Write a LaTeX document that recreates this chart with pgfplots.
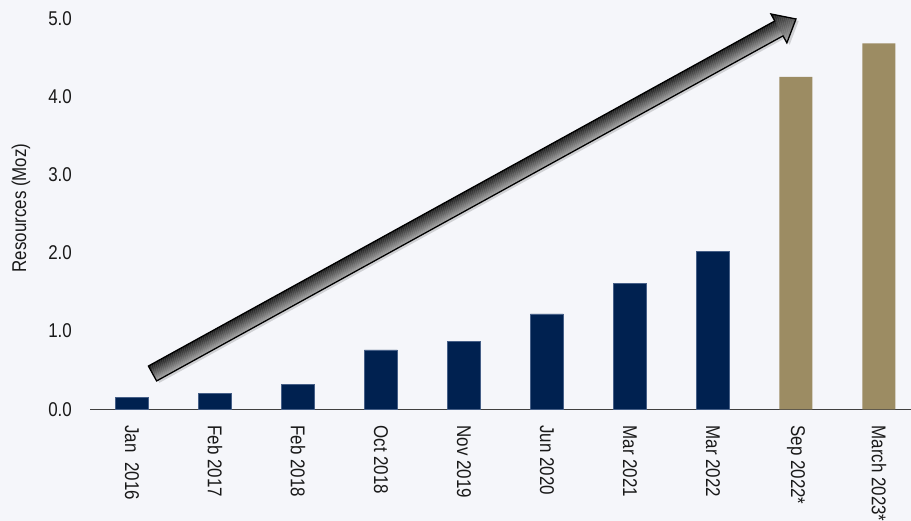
\documentclass[border=0pt]{standalone}
\usepackage{fontspec}
\setmainfont{Liberation Sans}[FakeStretch=0.85]
\usepackage{pgfplots}
\pgfplotsset{compat=1.18}
\definecolor{bgc}{RGB}{245,246,250}
\definecolor{navy}{RGB}{0,33,80}
\definecolor{navyedge}{RGB}{70,95,135}
\definecolor{khaki}{RGB}{156,140,99}
\begin{document}
\begin{tikzpicture}[x=1bp,y=1bp]
\fill[bgc] (-90.5bp,-111.7bp) rectangle (820.5bp,409.3bp);
\useasboundingbox (-90.5bp,-111.7bp) rectangle (820.5bp,409.3bp);
\begin{axis}[
  at={(0,0)}, anchor=south west,
  scale only axis,
  width=820.5bp, height=391bp,
  xmin=-0.5, xmax=9.386,
  ymin=0, ymax=5,
  axis lines*=left,
  y axis line style={draw=none},
  x axis line style={draw=black!75, line width=0.9bp},
  tick style={draw=none},
  major tick length=0pt,
  xtick={0,...,9},
  xticklabels={Jan~~2016,Feb 2017,Feb 2018,Oct 2018,Nov 2019,Jun 2020,Mar 2021,Mar 2022,Sep 2022*,March 2023*},
  ytick={0,1,2,3,4,5},
  yticklabels={0.0,1.0,2.0,3.0,4.0,5.0},
  /pgf/number format/assume math mode=true,
  every tick label/.append style={font=\fontsize{20}{24}\selectfont, text=black!90},
  xticklabel style={rotate=-90, anchor=west, inner sep=0pt},
  xticklabel shift=16bp,
  yticklabel style={anchor=east, inner sep=0pt},
  yticklabel shift=18.5bp,
  ylabel={Resources (Moz)},
  ylabel style={at={(axis description cs:-0.0847,0.515)}, anchor=center, font=\fontsize{20}{24}\selectfont, text=black!90},
  ybar, bar width=33bp,
  clip=false,
]
\addplot[fill=navy, draw=navyedge, line width=0.6bp, bar shift=0pt] coordinates {
 (0,0.15) (1,0.20) (2,0.32) (3,0.76) (4,0.87) (5,1.22) (6,1.61) (7,2.02)};
\addplot[fill=khaki, draw=none, bar shift=0pt] coordinates {
 (8,4.25) (9,4.68)};
\end{axis}
% decorative trend arrow
\begin{scope}[shift={(62bp,35.8bp)}, rotate=28.85]
  \fill[black, opacity=0.15] (1.5,-11.5) -- (716.7,-11.5) -- (716.7,-19.5) -- (736.2,-3) -- (716.7,13.5) -- (716.7,5.5) -- (1.5,5.5) -- cycle;
  \begin{scope}
    \clip (0,-8.5) rectangle (716,8.5);
    \foreach \i in {0,...,16} {
      \pgfmathtruncatemacro\c{35+55*\i/16}
      \fill[black!\c] (0,{-8.5+\i}) rectangle (716,{-8.5+\i+1.1});
    }
  \end{scope}
  \begin{scope}
    \clip (715.2,-16.5) -- (734.7,0) -- (715.2,16.5) -- cycle;
    \foreach \i in {0,...,32} {
      \pgfmathtruncatemacro\c{35+55*\i/32}
      \fill[black!\c] (714,{-16.5+\i}) rectangle (736,{-16.5+\i+1.1});
    }
  \end{scope}
  \draw[black, line width=1.3bp, line join=miter] (0,-8.5) -- (715.2,-8.5) -- (715.2,-16.5) -- (734.7,0) -- (715.2,16.5) -- (715.2,8.5) -- (0,8.5) -- cycle;
\end{scope}
\end{tikzpicture}
\end{document}
